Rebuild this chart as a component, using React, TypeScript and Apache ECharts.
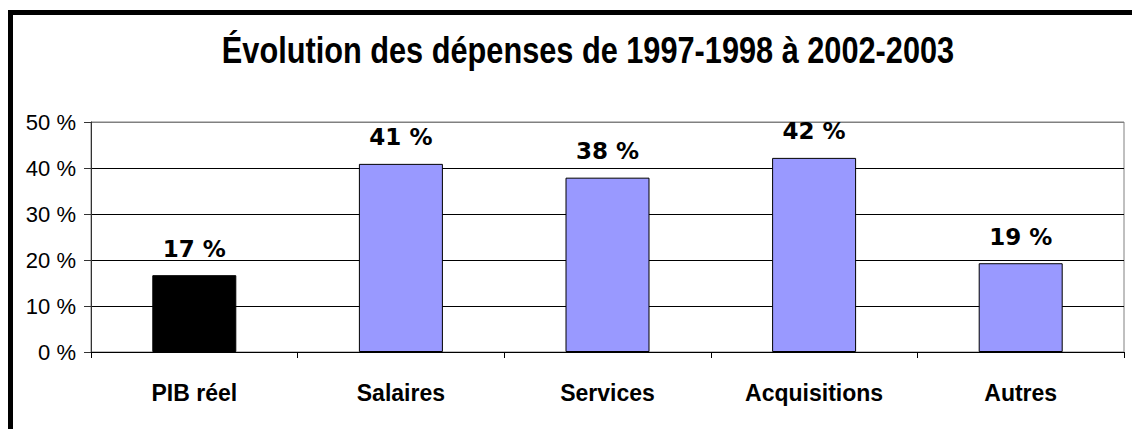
import React, { useEffect, useRef } from "react";
import * as echarts from "echarts";

const categories = ["PIB réel", "Salaires", "Services", "Acquisitions", "Autres"];
const values = [16.7, 40.9, 37.9, 42.2, 19.3];
const barColors = ["#000000", "#9999FF", "#9999FF", "#9999FF", "#9999FF"];
const yTicks = [0, 10, 20, 30, 40, 50];
const titleText = "Évolution des dépenses de 1997-1998 à 2002-2003";

export default function App() {
  const ref = useRef<HTMLDivElement>(null);
  useEffect(() => {
    if (!ref.current) return;
    const chart = echarts.init(ref.current, null, { renderer: "svg" });
    const sans = '"Liberation Sans", Arial, sans-serif';
    chart.setOption({
      animation: false,
      backgroundColor: "#ffffff",
      grid: {
        left: 91,
        right: 8,
        top: 122,
        bottom: 77,
        show: true,
        borderColor: "#808080",
        borderWidth: 1,
        backgroundColor: "transparent",
      },
      graphic: [
        {
          type: "rect",
          shape: { x: 10.5, y: 12.5, width: 1400, height: 800 },
          style: { fill: "none", stroke: "#000", lineWidth: 5 },
          z: 100,
        },
        {
          type: "text",
          x: 588,
          y: 49.5,
          scaleX: 0.83,
          style: {
            text: titleText,
            font: `bold 37px ${sans}`,
            fill: "#000",
            textAlign: "center",
            textVerticalAlign: "middle",
          },
        },
      ],
      xAxis: {
        type: "category",
        data: categories,
        axisLine: { show: true, lineStyle: { color: "#000", width: 1 } },
        axisTick: { show: true, length: 6, lineStyle: { color: "#000" } },
        axisLabel: {
          interval: 0,
          margin: 29,
          color: "#000",
          fontFamily: sans,
          fontWeight: "bold",
          fontSize: 23,
        },
      },
      yAxis: {
        type: "value",
        min: yTicks[0],
        max: yTicks[yTicks.length - 1],
        interval: 10,
        axisLine: { show: true, lineStyle: { color: "#333", width: 1 } },
        axisTick: { show: true, length: 7, lineStyle: { color: "#333" } },
        axisLabel: {
          margin: 15,
          color: "#000",
          fontFamily: sans,
          fontSize: 22,
          formatter: (v: number) => `${v} %`,
        },
        splitLine: {
          show: true,
          lineStyle: { color: ["#000", "#000", "#000", "#000", "#000", "#808080"], width: 1 },
        },
      },
      series: [
        {
          type: "bar",
          data: values.map((v, i) => ({
            value: v,
            itemStyle: { color: barColors[i], borderColor: "#000", borderWidth: 1 },
          })),
          barWidth: 84,
          label: {
            show: true,
            position: "top",
            distance: 15,
            color: "#000",
            fontFamily: '"DejaVu Sans", Verdana, sans-serif',
            fontWeight: "bold",
            fontSize: 23,
            formatter: (p: any) => `${Math.round(p.value)} %`,
          },
        },
      ],
    });
    return () => chart.dispose();
  }, []);
  return (
    <div
      ref={ref}
      style={{ position: "fixed", left: 0, top: 0, width: 1132, height: 429 }}
    />
  );
}
